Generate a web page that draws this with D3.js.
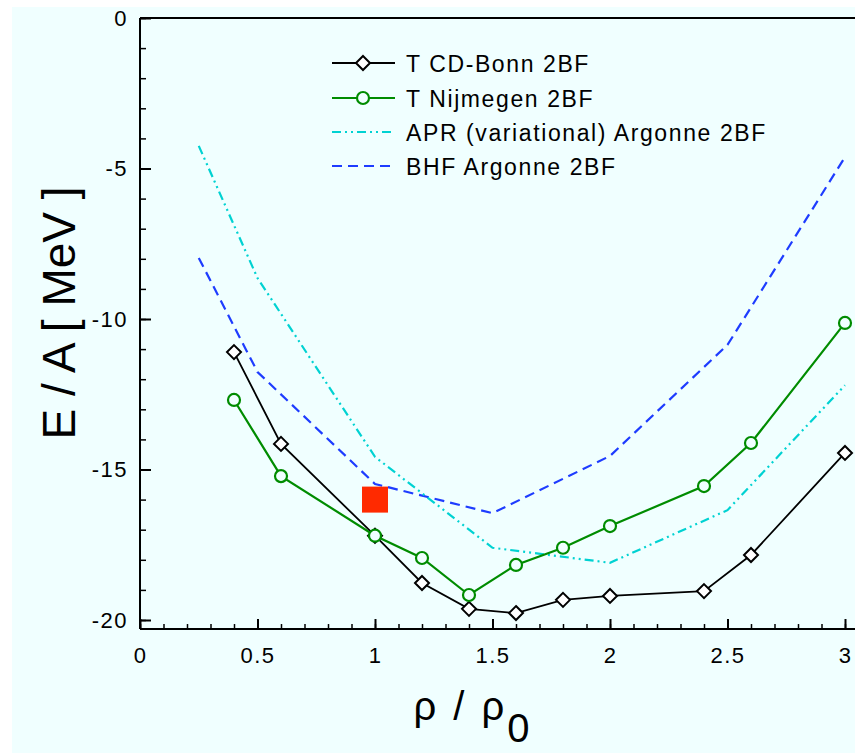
<!DOCTYPE html>
<html>
<head>
<meta charset="utf-8">
<script src="https://cdn.jsdelivr.net/npm/d3@7"></script>
<style>
  body { margin: 0; background: #fff; }
  text { font-family: "Liberation Sans", Arial, Helvetica, sans-serif; }
</style>
</head>
<body>
<div id="chart"></div>
<script>
// density rho/rho0 and E/A (MeV)
var cdbX = [0.4, 0.6, 1.0, 1.2, 1.4, 1.6, 1.8, 2.0, 2.4, 2.6, 3.0];
var cdbY = [-11.1, -14.15, -17.2, -18.77, -19.63, -19.77, -19.33, -19.2, -19.04, -17.84, -14.45];

var nijX = [0.4, 0.6, 1.0, 1.2, 1.4, 1.6, 1.8, 2.0, 2.4, 2.6, 3.0];
var nijY = [-12.69, -15.22, -17.2, -17.94, -19.17, -18.17, -17.6, -16.88, -15.55, -14.12, -10.13];

var aprX = [0.25, 0.5, 1.0, 1.5, 2.0, 2.5, 3.0];
var aprY = [-4.25, -8.64, -14.58, -17.6, -18.1, -16.35, -12.2];

var bhfX = [0.25, 0.5, 1.0, 1.5, 2.0, 2.5, 3.0];
var bhfY = [-7.97, -11.76, -15.48, -16.45, -14.55, -10.86, -4.62];

var satPoint = [1.0, -16.0];

var xTicks = [0, 0.5, 1, 1.5, 2, 2.5, 3];
var yTicks = [0, -5, -10, -15, -20];
var legendLabels = ["T CD-Bonn 2BF", "T Nijmegen 2BF", "APR (variational) Argonne 2BF", "BHF Argonne 2BF"];

var width = 855, height = 753;

var svg = d3.select("#chart").append("svg")
    .attr("width", width)
    .attr("height", height);

// background panel
svg.append("rect")
    .attr("x", 12).attr("y", 7)
    .attr("width", width - 12).attr("height", height - 7)
    .attr("fill", "#f0ffff");

var x = d3.scaleLinear().domain([0, 3]).range([140, 845]);
var y = d3.scaleLinear().domain([-20, 0]).range([620, 18]);
var yBottom = y(-20.3);
var xRight = 855;

// plain hyphen minus like the original
var fmt = function(d) { return String(d); };

// minor ticks
svg.append("g")
    .attr("transform", "translate(0," + yBottom + ")")
    .call(d3.axisBottom(x).tickValues(d3.range(0, 3.05, 0.1)).tickSize(-5).tickFormat(""))
    .call(function(g) { g.select(".domain").remove(); })
    .selectAll("line").attr("stroke-width", 1.5);

svg.append("g")
    .attr("transform", "translate(140,0)")
    .call(d3.axisLeft(y).tickValues(d3.range(-20, 0.5, 1)).tickSize(-6).tickFormat(""))
    .call(function(g) { g.select(".domain").remove(); })
    .selectAll("line").attr("stroke-width", 1.5);

// major ticks + labels
var xAxis = svg.append("g")
    .attr("transform", "translate(0," + yBottom + ")")
    .call(d3.axisBottom(x).tickValues(xTicks).tickSize(-10).tickPadding(18).tickFormat(fmt))
    .call(function(g) { g.select(".domain").remove(); });
xAxis.selectAll("line").attr("stroke-width", 2);
xAxis.selectAll("text").attr("font-size", "22px").attr("fill", "#000")
    .attr("letter-spacing", "1.5px")
    .attr("font-family", "'Liberation Sans', Arial, sans-serif");

var yAxis = svg.append("g")
    .attr("transform", "translate(140,0)")
    .call(d3.axisLeft(y).tickValues(yTicks).tickSize(-11).tickPadding(12).tickFormat(fmt))
    .call(function(g) { g.select(".domain").remove(); });
yAxis.selectAll("line").attr("stroke-width", 2);
yAxis.selectAll("text").attr("font-size", "22px").attr("fill", "#000")
    .attr("letter-spacing", "1.5px")
    .attr("font-family", "'Liberation Sans', Arial, sans-serif");

// frame lines
svg.append("line")
    .attr("x1", 140).attr("x2", xRight).attr("y1", yBottom).attr("y2", yBottom)
    .attr("stroke", "#000").attr("stroke-width", 2);
svg.append("line")
    .attr("x1", 140).attr("x2", 140).attr("y1", y(0)).attr("y2", yBottom)
    .attr("stroke", "#000").attr("stroke-width", 2);
svg.append("line")
    .attr("x1", 140).attr("x2", xRight).attr("y1", y(0)).attr("y2", y(0))
    .attr("stroke", "#000").attr("stroke-width", 2);

var line = d3.line()
    .x(function(d) { return x(d[0]); })
    .y(function(d) { return y(d[1]); });

function pairs(xs, ys) { return xs.map(function(v, i) { return [v, ys[i]]; }); }

var cdb = pairs(cdbX, cdbY), nij = pairs(nijX, nijY), apr = pairs(aprX, aprY), bhf = pairs(bhfX, bhfY);

svg.append("path").datum(bhf).attr("d", line)
    .attr("fill", "none").attr("stroke", "#1e3cff").attr("stroke-width", 2.2)
    .attr("stroke-dasharray", "10,6");

svg.append("path").datum(apr).attr("d", line)
    .attr("fill", "none").attr("stroke", "#00d2d2").attr("stroke-width", 2.2)
    .attr("stroke-dasharray", "9,4,2,4,2,4");

// empirical saturation point
svg.append("rect")
    .attr("x", x(satPoint[0]) - 13).attr("y", y(satPoint[1]) - 13)
    .attr("width", 26).attr("height", 26)
    .attr("fill", "#ff2a00");

svg.append("path").datum(cdb).attr("d", line)
    .attr("fill", "none").attr("stroke", "#000").attr("stroke-width", 1.8);

svg.append("path").datum(nij).attr("d", line)
    .attr("fill", "none").attr("stroke", "#008c00").attr("stroke-width", 2.2);

var diamond = "M0,-7L7,0L0,7L-7,0Z";

svg.selectAll(".cdb").data(cdb).enter().append("path")
    .attr("class", "cdb")
    .attr("d", diamond)
    .attr("transform", function(d) { return "translate(" + x(d[0]) + "," + y(d[1]) + ")"; })
    .attr("fill", "#fff").attr("stroke", "#000").attr("stroke-width", 2);

svg.selectAll(".nij").data(nij).enter().append("circle")
    .attr("class", "nij")
    .attr("cx", function(d) { return x(d[0]); })
    .attr("cy", function(d) { return y(d[1]); })
    .attr("r", 6)
    .attr("fill", "#f0ffff").attr("stroke", "#008c00").attr("stroke-width", 2.2);

// legend
var legendStyles = [
    { stroke: "#000", width: 1.8, dash: null, marker: "diamond" },
    { stroke: "#008c00", width: 2.2, dash: null, marker: "circle" },
    { stroke: "#00d2d2", width: 2.2, dash: "9,4,2,4,2,4", marker: null },
    { stroke: "#1e3cff", width: 2.2, dash: "10,6", marker: null }
];
var legendY = [63, 98, 132, 166];

var legend = svg.selectAll(".legend").data(legendLabels).enter().append("g")
    .attr("class", "legend")
    .attr("transform", function(d, i) { return "translate(332," + legendY[i] + ")"; });

legend.append("line")
    .attr("x1", 0).attr("x2", 63).attr("y1", 0).attr("y2", 0)
    .attr("stroke", function(d, i) { return legendStyles[i].stroke; })
    .attr("stroke-width", function(d, i) { return legendStyles[i].width; })
    .attr("stroke-dasharray", function(d, i) { return legendStyles[i].dash; });

legend.filter(function(d, i) { return legendStyles[i].marker === "diamond"; })
    .append("path").attr("d", diamond).attr("transform", "translate(31,0)")
    .attr("fill", "#fff").attr("stroke", "#000").attr("stroke-width", 2);

legend.filter(function(d, i) { return legendStyles[i].marker === "circle"; })
    .append("circle").attr("cx", 31).attr("r", 6)
    .attr("fill", "#f0ffff").attr("stroke", "#008c00").attr("stroke-width", 2.2);

legend.append("text")
    .attr("x", 74).attr("y", 9)
    .attr("font-size", "23px")
    .attr("letter-spacing", "1.6px")
    .text(function(d) { return d; });

// axis titles
svg.append("text")
    .attr("transform", "translate(75,313) rotate(-90)")
    .attr("text-anchor", "middle")
    .attr("font-size", "46px")
    .text("E / A [ MeV ]");

var xt = svg.append("text")
    .attr("x", 473).attr("y", 720)
    .attr("text-anchor", "middle")
    .attr("font-size", "40px")
    .attr("letter-spacing", "3px");
xt.append("tspan").text("ρ / ρ");
xt.append("tspan").attr("dy", 22).text("0");
</script>
</body>
</html>
